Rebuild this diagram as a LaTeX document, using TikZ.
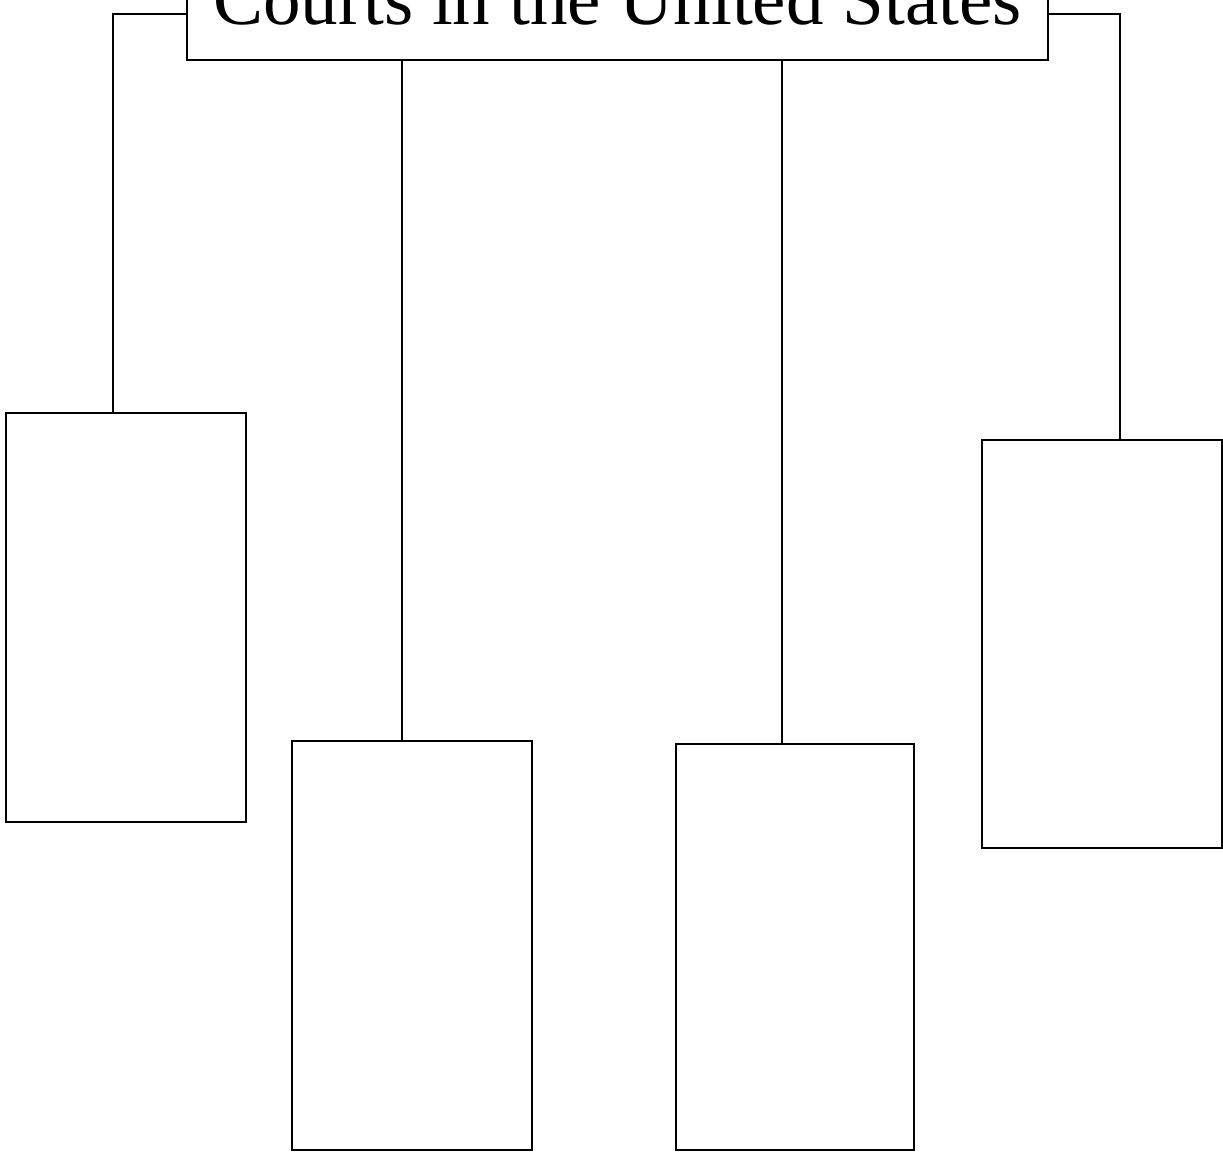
\documentclass[tikz,border=0pt]{standalone}
\usepackage{fontspec}
\setmainfont{Liberation Serif}
\begin{document}
\begin{tikzpicture}[x=1pt,y=-1pt,
  courtbox/.style={draw=black,line width=1.7pt,inner sep=0pt,fill=white},
  link/.style={draw=black,line width=1.3pt}]
\useasboundingbox (0,0) rectangle (1223,1152);
\clip (0,0) rectangle (1223,1152);
\fill[white] (0,0) rectangle (1223,1152);
% title
\node[courtbox,anchor=base,minimum width=861pt,text height=56pt,text depth=36pt,
  font=\fontsize{75}{80}\selectfont] (title) at (617.5,24) {Courts in the United States};
% boxes
\node[courtbox,minimum width=240pt,minimum height=409pt] (a) at (126,617.5) {};
\node[courtbox,minimum width=240pt,minimum height=409pt] (b) at (412,945.5) {};
\node[courtbox,minimum width=238pt,minimum height=406pt] (c) at (795,947) {};
\node[courtbox,minimum width=240pt,minimum height=408pt] (d) at (1102,644) {};
% connectors
\draw[link] (title.west) -| ([xshift=-13pt]a.north);
\draw[link] (title.east) -| ([xshift=18pt]d.north);
\draw[link] ([xshift=-10pt]b.north |- title.south) -- ([xshift=-10pt]b.north);
\draw[link] ([xshift=-13pt]c.north |- title.south) -- ([xshift=-13pt]c.north);
\end{tikzpicture}
\end{document}
